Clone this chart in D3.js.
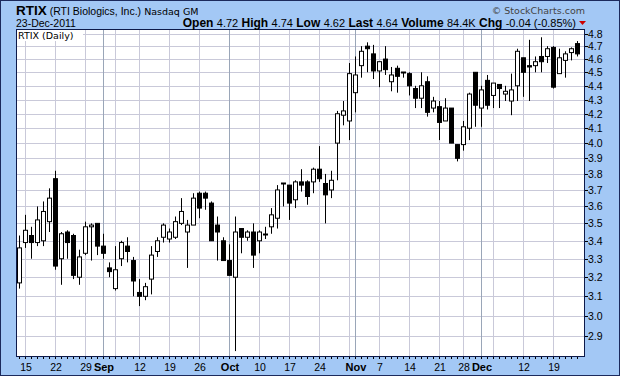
<!DOCTYPE html>
<html>
<head>
<meta charset="utf-8">
<script src="https://cdn.jsdelivr.net/npm/d3@7"></script>
<style>
  body { margin: 0; background: #fff; }
  svg { display: block; font-family: "Liberation Sans", Arial, sans-serif; }
</style>
</head>
<body>
<div id="chart"></div>
<script>
// trading days shown, Aug 12 -> Dec 23 2011
const dates = [
  "2011-08-12","2011-08-15","2011-08-16","2011-08-17","2011-08-18","2011-08-19",
  "2011-08-22","2011-08-23","2011-08-24","2011-08-25","2011-08-26",
  "2011-08-29","2011-08-30","2011-08-31","2011-09-01","2011-09-02",
  "2011-09-06","2011-09-07","2011-09-08","2011-09-09",
  "2011-09-12","2011-09-13","2011-09-14","2011-09-15","2011-09-16",
  "2011-09-19","2011-09-20","2011-09-21","2011-09-22","2011-09-23",
  "2011-09-26","2011-09-27","2011-09-28","2011-09-29","2011-09-30",
  "2011-10-03","2011-10-04","2011-10-05","2011-10-06","2011-10-07",
  "2011-10-10","2011-10-11","2011-10-12","2011-10-13","2011-10-14",
  "2011-10-17","2011-10-18","2011-10-19","2011-10-20","2011-10-21",
  "2011-10-24","2011-10-25","2011-10-26","2011-10-27","2011-10-28",
  "2011-10-31","2011-11-01","2011-11-02","2011-11-03","2011-11-04",
  "2011-11-07","2011-11-08","2011-11-09","2011-11-10","2011-11-11",
  "2011-11-14","2011-11-15","2011-11-16","2011-11-17","2011-11-18",
  "2011-11-21","2011-11-22","2011-11-23","2011-11-25",
  "2011-11-28","2011-11-29","2011-11-30","2011-12-01","2011-12-02",
  "2011-12-05","2011-12-06","2011-12-07","2011-12-08","2011-12-09",
  "2011-12-12","2011-12-13","2011-12-14","2011-12-15","2011-12-16",
  "2011-12-19","2011-12-20","2011-12-21","2011-12-22","2011-12-23"
];

const open = [
  3.17,3.39,3.43,3.39,3.40,3.51, 3.77,3.30,3.45,3.43,3.20, 3.33,3.48,3.50,3.37,3.25,
  3.14,3.30,3.37,3.29, 3.12,3.10,3.19,3.34,3.42, 3.41,3.42,3.50,3.45,3.49,
  3.68,3.68,3.62,3.49,3.40, 3.29,3.20,3.47,3.42,3.45, 3.40,3.44,3.48,3.53,3.74,
  3.73,3.64,3.75,3.75,3.75, 3.83,3.74,3.70,4.00,4.19, 4.15,4.35,4.55,4.70,4.64,
  4.51,4.60,4.43,4.53,4.50, 4.49,4.38,4.31,4.43,4.24, 4.25,4.15,4.24,3.99,
  3.99,4.10,4.50,4.24,4.44, 4.33,4.41,4.34,4.29,4.40, 4.61,4.55,4.55,4.62,4.62,
  4.69,4.49,4.59,4.65,4.72
];
const high = [
  3.43,3.55,3.48,3.60,3.63,3.71, 3.82,3.45,3.46,3.44,3.35, 3.51,3.50,3.50,3.44,3.28,
  3.37,3.40,3.42,3.31, 3.19,3.17,3.37,3.42,3.50, 3.47,3.54,3.65,3.52,3.68,
  3.69,3.69,3.63,3.54,3.42, 3.38,3.54,3.47,3.46,3.50, 3.46,3.48,3.59,3.73,3.74,
  3.73,3.76,3.83,3.76,3.84, 3.98,3.80,3.82,4.22,4.29, 4.57,4.62,4.70,4.73,4.71,
  4.58,4.70,4.54,4.55,4.50, 4.50,4.40,4.50,4.47,4.32, 4.29,4.31,4.24,3.99,
  4.15,4.35,4.50,4.40,4.48, 4.42,4.41,4.40,4.49,4.68, 4.61,4.75,4.62,4.77,4.70,
  4.70,4.68,4.66,4.69,4.74
];
const low = [
  3.14,3.36,3.30,3.37,3.37,3.45, 3.24,3.16,3.30,3.19,3.16, 3.32,3.29,3.32,3.30,3.20,
  3.13,3.26,3.28,3.10, 3.05,3.08,3.11,3.31,3.39, 3.39,3.41,3.49,3.25,3.49,
  3.53,3.58,3.40,3.29,3.29, 3.21,2.83,3.33,3.40,3.25, 3.33,3.41,3.44,3.47,3.60,
  3.52,3.59,3.69,3.61,3.68, 3.75,3.50,3.65,3.76,4.12, 4.02,4.21,4.46,4.50,4.45,
  4.39,4.48,4.36,4.35,4.46, 4.33,4.24,4.24,4.18,4.21, 4.02,4.15,4.00,3.88,
  3.95,4.02,4.11,4.11,4.23, 4.24,4.24,4.29,4.19,4.29, 4.32,4.29,4.50,4.50,4.57,
  4.38,4.49,4.46,4.59,4.62
];
const close = [
  3.36,3.46,3.39,3.52,3.57,3.65, 3.26,3.44,3.39,3.21,3.31, 3.48,3.49,3.37,3.33,3.23,
  3.24,3.39,3.34,3.18, 3.10,3.15,3.32,3.40,3.49, 3.45,3.51,3.57,3.49,3.65,
  3.59,3.65,3.40,3.45,3.29, 3.21,3.45,3.42,3.45,3.32, 3.45,3.44,3.55,3.70,3.74,
  3.62,3.75,3.73,3.66,3.83, 3.77,3.67,3.76,4.20,4.22, 4.49,4.48,4.66,4.68,4.51,
  4.58,4.52,4.48,4.47,4.50, 4.40,4.31,4.40,4.21,4.29, 4.14,4.24,4.00,3.90,
  4.11,4.34,4.26,4.37,4.26, 4.42,4.38,4.36,4.37,4.66, 4.50,4.54,4.58,4.58,4.68,
  4.39,4.61,4.64,4.68,4.64
];

const yTicks = [2.9,3.0,3.1,3.2,3.3,3.4,3.5,3.6,3.7,3.8,3.9,4.0,4.1,4.2,4.3,4.4,4.5,4.6,4.7,4.8];

// weekly grid lines, month lines, and the axis labels
const weekDates = ["2011-08-15","2011-08-22","2011-08-29","2011-09-06","2011-09-12","2011-09-19",
  "2011-09-26","2011-10-03","2011-10-10","2011-10-17","2011-10-24","2011-10-31","2011-11-07",
  "2011-11-14","2011-11-21","2011-11-28","2011-12-05","2011-12-12","2011-12-19"];
const monthDates = ["2011-09-01","2011-10-03","2011-11-01","2011-12-01"];
const xLabelDates = ["2011-08-15","2011-08-22","2011-08-29","2011-09-01","2011-09-12","2011-09-19",
  "2011-09-26","2011-10-03","2011-10-10","2011-10-17","2011-10-24","2011-11-01","2011-11-07",
  "2011-11-14","2011-11-21","2011-11-28","2011-12-01","2011-12-12","2011-12-19"];
const xLabels = ["15","22","29","Sep","12","19","26","Oct","10","17","24","Nov","7","14","21","28","Dec","12","19"];

const W = 620, H = 376;
const plot = { left: 16, top: 29, right: 585, bottom: 357 };

const data = dates.map((d, i) => ({ date: d, o: open[i], h: high[i], l: low[i], c: close[i] }));

const svg = d3.select("#chart").append("svg")
    .attr("width", W)
    .attr("height", H);

// blue page
svg.append("rect")
    .attr("x", 0.5).attr("y", 0.5)
    .attr("width", W - 1).attr("height", H - 1)
    .attr("fill", "#a3c8f5")
    .attr("stroke", "#1c2a5c");

svg.append("rect")
    .attr("x", plot.left).attr("y", plot.top)
    .attr("width", plot.right - plot.left).attr("height", plot.bottom - plot.top)
    .attr("fill", "#fff");

const x = d3.scaleBand()
    .domain(dates)
    .range([plot.left, plot.left + dates.length * 6]);
const cx = d => x(d) + x.bandwidth() / 2;

const y = d3.scaleLog()
    .domain([2.9, 4.8])
    .range([336.4, 33.5]);

const g = svg.append("g");

// horizontal grid
g.selectAll(".hgrid")
    .data(yTicks)
    .enter()
    .append("line")
    .attr("x1", plot.left).attr("x2", plot.right)
    .attr("y1", d => Math.round(y(d)) + 0.5).attr("y2", d => Math.round(y(d)) + 0.5)
    .attr("stroke", "#c9c9d9");

// weekly grid
g.selectAll(".wgrid")
    .data(weekDates)
    .enter()
    .append("line")
    .attr("x1", d => cx(d) + 0.5).attr("x2", d => cx(d) + 0.5)
    .attr("y1", plot.top).attr("y2", plot.bottom)
    .attr("stroke", "#c9c9d9");

g.selectAll(".mgrid")
    .data(monthDates)
    .enter()
    .append("line")
    .attr("x1", d => cx(d) + 0.5).attr("x2", d => cx(d) + 0.5)
    .attr("y1", plot.top).attr("y2", plot.bottom)
    .attr("stroke", "#9aa6b8");

// candles
const candles = g.selectAll(".candle")
    .data(data)
    .enter()
    .append("g")
    .attr("class", "candle");

candles.append("line")
    .attr("x1", d => cx(d.date) + 0.5).attr("x2", d => cx(d.date) + 0.5)
    .attr("y1", d => y(d.h)).attr("y2", d => y(d.l))
    .attr("stroke", "#000");

candles.filter(d => d.o !== d.c)
    .append("rect")
    .attr("x", d => cx(d.date) - 1.5)
    .attr("y", d => y(Math.max(d.o, d.c)))
    .attr("width", 4)
    .attr("height", d => Math.max(1, y(Math.min(d.o, d.c)) - y(Math.max(d.o, d.c))))
    .attr("fill", d => d.c > d.o ? "#fff" : "#000")
    .attr("stroke", "#000");

candles.filter(d => d.o === d.c)
    .append("line")
    .attr("x1", d => cx(d.date) - 2).attr("x2", d => cx(d.date) + 3)
    .attr("y1", d => Math.round(y(d.c)) + 0.5).attr("y2", d => Math.round(y(d.c)) + 0.5)
    .attr("stroke", "#000")
    .attr("stroke-width", 2);

// plot frame
svg.append("rect")
    .attr("x", plot.left + 0.5).attr("y", plot.top + 0.5)
    .attr("width", plot.right - plot.left - 1).attr("height", plot.bottom - plot.top - 1)
    .attr("fill", "none")
    .attr("stroke", "#0d1a4a");

// chart name box
svg.append("rect")
    .attr("x", plot.left + 1).attr("y", plot.top + 1)
    .attr("width", 66).attr("height", 11)
    .attr("fill", "#fff");
svg.append("text")
    .attr("x", plot.left + 2).attr("y", plot.top + 10)
    .style("font-family", "'DejaVu Sans', Verdana, sans-serif")
    .style("font-size", "9.5px")
    .text("RTIX (Daily)");

// right axis
const yAxis = svg.append("g");
yAxis.selectAll(".ytick")
    .data(yTicks)
    .enter()
    .append("line")
    .attr("x1", plot.right).attr("x2", plot.right + 3)
    .attr("y1", d => Math.round(y(d)) + 0.5).attr("y2", d => Math.round(y(d)) + 0.5)
    .attr("stroke", "#000");
yAxis.selectAll(".ylab")
    .data(yTicks)
    .enter()
    .append("text")
    .attr("x", plot.right + 3)
    .attr("y", d => y(d) + 4)
    .style("font-size", "10.5px")
    .text(d => d.toFixed(1));

// bottom axis: day ticks and labels
const xAxis = svg.append("g");
xAxis.selectAll(".xtick")
    .data(dates)
    .enter()
    .append("line")
    .attr("x1", d => cx(d) + 0.5).attr("x2", d => cx(d) + 0.5)
    .attr("y1", plot.bottom).attr("y2", plot.bottom + 2)
    .attr("stroke", "#000");
xAxis.selectAll(".xlab")
    .data(xLabelDates)
    .enter()
    .append("text")
    .attr("x", d => cx(d) + 1)
    .attr("y", 371)
    .attr("text-anchor", "middle")
    .style("font-size", (d, i) => isNaN(+xLabels[i]) ? "11px" : "10.5px")
    .style("font-weight", (d, i) => isNaN(+xLabels[i]) ? "bold" : "normal")
    .text((d, i) => xLabels[i]);

// header
const head = svg.append("text").attr("x", 16).attr("y", 15);
head.append("tspan").style("font-size", "13.5px").style("font-weight", "bold").text("RTIX");
head.append("tspan").style("font-size", "10.5px").text(" (RTI Biologics, Inc.)");
head.append("tspan").style("font-size", "9.5px").style("font-family", "'DejaVu Sans', Verdana, sans-serif").text(" Nasdaq GM");

svg.append("text")
    .attr("x", 16).attr("y", 26.5)
    .style("font-size", "10.5px")
    .text("23-Dec-2011");

svg.append("text")
    .attr("x", 585).attr("y", 14)
    .attr("text-anchor", "end")
    .style("font-size", "9.5px")
    .style("font-family", "'DejaVu Sans', Verdana, sans-serif")
    .attr("fill", "#444")
    .text("\u00A9 StockCharts.com");

const quote = [["Open", "4.72"], ["High", "4.74"], ["Low", "4.62"], ["Last", "4.64"], ["Volume", "84.4K"], ["Chg", "-0.04 (-0.85%)"]];
const qt = svg.append("text").attr("x", 576).attr("y", 26.5).attr("text-anchor", "end");
quote.forEach(([k, v], i) => {
    qt.append("tspan").style("font-size", "12px").style("font-weight", "bold").text((i ? " " : "") + k + " ");
    qt.append("tspan").style("font-size", "11px").text(v);
});
svg.append("path")
    .attr("d", "M579,21L586,21L582.5,25Z")
    .attr("fill", "#cc0000");
</script>
</body>
</html>
